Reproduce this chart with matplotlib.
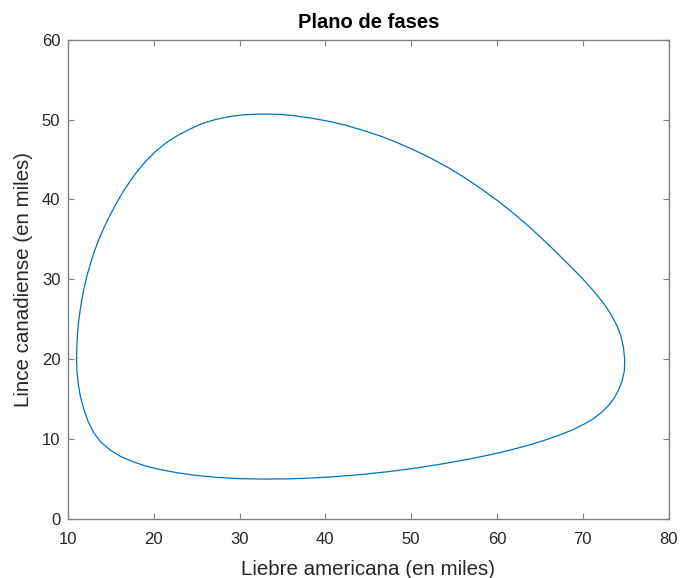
import matplotlib
matplotlib.use("Agg")
import matplotlib.pyplot as plt

plt.rcParams['font.family'] = ['Liberation Sans', 'DejaVu Sans']

# Closed orbit in the hare-lynx phase plane (thousands of animals),
# traced from the leftmost point, over the top, down the right side and back along the bottom
liebre = [11.0, 11.03, 11.1, 11.22, 11.4, 11.62, 11.9, 12.23, 12.63, 13.08,
          13.61, 14.21, 14.89, 15.62, 16.4, 17.22, 18.1, 19.1, 20.2, 21.4,
          22.7, 24.1, 25.6, 27.2, 28.8, 30.4, 32.0, 33.5, 35.0, 36.5,
          38.5, 40.5, 42.5, 44.5, 46.5, 48.5, 50.5, 52.4, 54.3, 56.2,
          58.2, 60.1, 62.0, 64.0, 65.9, 67.8, 69.2, 70.4, 71.5, 72.5,
          73.3, 74.0, 74.45, 74.75, 74.9, 74.85, 74.6, 74.2, 73.7, 73.0,
          72.2, 71.3, 70.2, 68.9, 67.4, 65.8, 64.2, 62.5, 60.7, 58.8,
          56.0, 53.2, 50.3, 47.4, 44.5, 41.5, 38.5, 35.7, 33.0, 30.0,
          27.5, 25.0, 22.7, 20.7, 19.0, 17.5, 16.1, 14.9, 13.85, 13.0,
          12.35, 11.85, 11.45, 11.2, 11.05, 11.0]
lince = [20.0, 21.5, 23.0, 24.5, 26.0, 27.5, 29.0, 30.5, 32.0, 33.5,
         35.0, 36.5, 38.0, 39.48, 40.92, 42.25, 43.55, 44.82, 46.0, 47.05,
         47.95, 48.74, 49.48, 50.0, 50.37, 50.58, 50.67, 50.68, 50.62, 50.45,
         50.15, 49.75, 49.25, 48.6, 47.9, 47.05, 46.1, 45.1, 44.0, 42.75,
         41.3, 39.82, 38.2, 36.35, 34.45, 32.45, 30.95, 29.6, 28.25, 26.9,
         25.6, 24.2, 22.9, 21.5, 19.9, 18.5, 17.3, 16.2, 15.2, 14.2,
         13.35, 12.6, 11.9, 11.2, 10.55, 9.95, 9.4, 8.9, 8.4, 7.95,
         7.35, 6.82, 6.34, 5.94, 5.6, 5.33, 5.14, 5.03, 5.0, 5.05,
         5.2, 5.45, 5.8, 6.2, 6.65, 7.2, 7.85, 8.65, 9.6, 10.8,
         12.2, 13.7, 15.3, 16.9, 18.5, 20.0]

x_ticks = [10, 20, 30, 40, 50, 60, 70, 80]
y_ticks = [0, 10, 20, 30, 40, 50, 60]

fig = plt.figure(figsize=(6.86, 5.78), dpi=100)
ax = fig.add_axes([0.0991, 0.102, 0.8754, 0.8295])

ax.plot(liebre, lince, color='#0072BD', linewidth=0.9)

ax.set_xlim(10, 80)
ax.set_ylim(0, 60)
ax.set_xticks(x_ticks)
ax.set_yticks(y_ticks)

text_color = '#262626'
for spine in ax.spines.values():
    spine.set_color('#808080')
    spine.set_linewidth(1.0)
ax.tick_params(direction='in', length=4, width=0.8, color='#808080',
               labelcolor=text_color, top=True, right=True, labelsize=12)
ax.tick_params(axis='x', pad=9.5)
ax.tick_params(axis='y', pad=5.5)

ax.set_title('Plano de fases', fontsize=14.5, fontweight='bold', color='black', pad=8.5)
ax.set_xlabel('Liebre americana (en miles)', fontsize=14.8, color=text_color, labelpad=9)
ax.set_ylabel('Lince canadiense (en miles)', fontsize=14.8, color=text_color, labelpad=6)

fig.savefig('out.png', dpi=100)
